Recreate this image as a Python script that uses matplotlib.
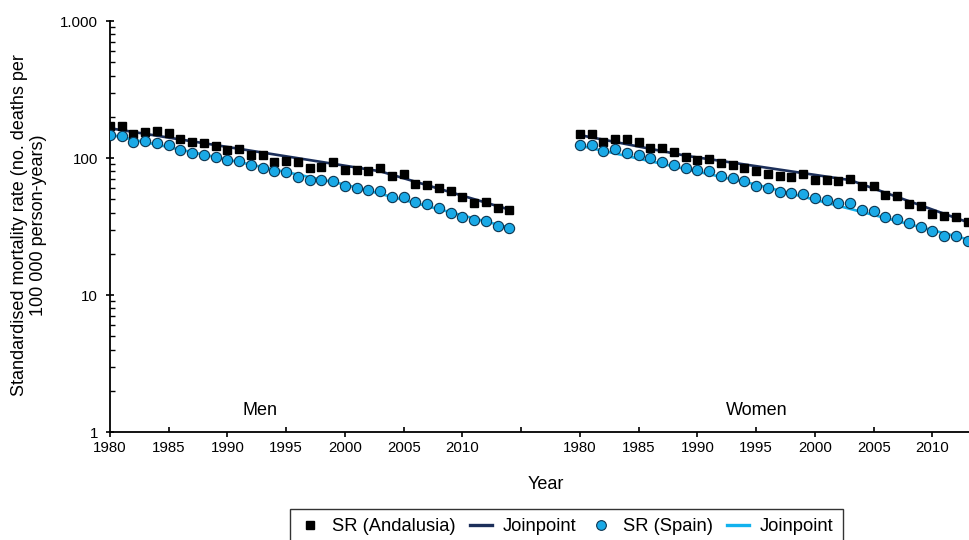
import matplotlib.pyplot as plt
from matplotlib.lines import Line2D
from matplotlib.ticker import LogLocator, NullFormatter

plt.rcParams['font.family'] = ['Liberation Sans', 'DejaVu Sans']

# data
years_men = list(range(1980, 2015))
men_andalusia = [171, 171, 149, 154, 157, 153, 137, 132, 129, 123,
                 114, 116, 105, 105, 94, 94.5, 93, 84, 86.5, 94,
                 81.7, 81.7, 80.8, 84, 74, 77, 65, 64, 60, 57.4,
                 52, 46.7, 48, 43, 42]
men_spain = [147, 145, 130, 134, 128, 124, 114, 108, 106, 101,
             96.7, 95.6, 88.5, 85, 80.4, 79, 73, 69, 69, 68.5,
             62.5, 60, 58.4, 57.6, 52, 52, 48, 46, 43, 40,
             37.3, 35.3, 34.8, 31.9, 31]

years_women = list(range(1980, 2014))
women_andalusia = [149, 150, 131, 138, 137, 130, 119, 118, 111, 102,
                   96.7, 98.5, 92.5, 89, 84, 80.8, 77, 74, 72.3, 76.4,
                   69, 69, 67.8, 70.5, 62.5, 62.5, 53.7, 53, 46, 44.6,
                   39, 37.7, 36.9, 34.3]
women_spain = [124, 124, 113, 116, 109, 105, 99.5, 93, 89, 85,
               81.7, 80.4, 74.3, 72, 68.5, 62.5, 60, 56.2, 55.3, 54.6,
               50.8, 49.2, 46.7, 46.7, 41.7, 41, 37.3, 35.8, 33.4, 31.6,
               29.3, 27.1, 27.1, 24.9]

# joinpoint trends (knots)
jp_men_and_years = [1980, 2003, 2014]
jp_men_and = [165, 80, 42]
jp_men_spa_years = [1980, 2000, 2014]
jp_men_spa = [148, 64, 31]
jp_women_and_years = [1980, 1989, 2003, 2013]
jp_women_and = [147, 104, 69, 34]
jp_women_spa_years = [1980, 1995, 2013]
jp_women_spa = [123, 64, 25.5]

tick_years = [1980, 1985, 1990, 1995, 2000, 2005, 2010, 2015]
women_offset = 40

navy = '#1c2f5a'
light = '#12b2ee'
dot = '#1aa9e6'


def xs(years, offset=0):
    return [y - 1980 + offset for y in years]


fig = plt.figure(figsize=(9.7, 5.4), dpi=100)
ax = fig.add_axes([0.1134, 0.2, 0.9206, 0.761])

for off, yrs, andv, spav, ja_y, ja, js_y, js in [
        (0, years_men, men_andalusia, men_spain,
         jp_men_and_years, jp_men_and, jp_men_spa_years, jp_men_spa),
        (women_offset, years_women, women_andalusia, women_spain,
         jp_women_and_years, jp_women_and, jp_women_spa_years, jp_women_spa)]:
    ax.plot(xs(ja_y, off), ja, color=navy, lw=1.9, zorder=2)
    ax.plot(xs(js_y, off), js, color=light, lw=1.9, zorder=2)
    ax.plot(xs(yrs, off), andv, ls='none', marker='s', ms=6.2,
            mfc='black', mec='black', zorder=3)
    ax.plot(xs(yrs, off), spav, ls='none', marker='o', ms=7.4,
            mfc=dot, mec='#0d3550', mew=0.8, zorder=4)

ax.set_yscale('log')
ax.set_ylim(1, 1000)
ax.set_xlim(0, 76)
ax.set_yticks([1, 10, 100, 1000], labels=['1', '10', '100', '1.000'])
ax.yaxis.set_minor_locator(LogLocator(base=10, subs=range(2, 10)))
ax.yaxis.set_minor_formatter(NullFormatter())

major_pos, major_lab, minor_pos, minor_lab = [], [], [], []
for off in (0, women_offset):
    for y in tick_years:
        lab = '' if y == 2015 else str(y)
        if y % 10 == 0:
            major_pos.append(y - 1980 + off)
            major_lab.append(lab)
        else:
            minor_pos.append(y - 1980 + off)
            minor_lab.append(lab)
ax.set_xticks(major_pos, labels=major_lab)
ax.set_xticks(minor_pos, labels=minor_lab, minor=True)

ax.tick_params(axis='x', which='major', direction='out', length=3.5,
               width=1.2, pad=3, labelsize=10.8)
ax.tick_params(axis='x', which='minor', direction='in', length=3.5,
               width=1.2, pad=6.5, labelsize=10.8)
ax.tick_params(axis='y', which='major', direction='inout', length=6,
               width=1.2, pad=5.5, labelsize=10.8)
ax.tick_params(axis='y', which='minor', direction='in', length=3.5,
               width=1.0)

for s in ['top', 'right']:
    ax.spines[s].set_visible(False)
for s in ['left', 'bottom']:
    ax.spines[s].set_linewidth(1.3)

ax.text(12.8, 1.43, 'Men', ha='center', va='center', fontsize=13)
ax.text(55, 1.43, 'Women', ha='center', va='center', fontsize=13)

fig.text(0.563, 0.102, 'Year', ha='center', va='center', fontsize=13)
fig.text(0.030, 0.583,
         'Standardised mortality rate (no. deaths per\n100 000 person-years)',
         rotation=90, ha='center', va='center', fontsize=13,
         multialignment='center', linespacing=1.1)

handles = [
    Line2D([], [], ls='none', marker='s', ms=6, mfc='black', mec='black'),
    Line2D([], [], color=navy, lw=2.4),
    Line2D([], [], ls='none', marker='o', ms=7, mfc=dot, mec='#0d3550', mew=0.8),
    Line2D([], [], color=light, lw=2.4),
]
labels = ['SR (Andalusia)', 'Joinpoint', 'SR (Spain)', 'Joinpoint']
leg = fig.legend(handles, labels, loc='upper center',
                 bbox_to_anchor=(0.584, 0.0574), ncol=4, frameon=True,
                 fancybox=False, edgecolor='black', fontsize=13.2,
                 handlelength=1.2, handletextpad=0.6, columnspacing=0.75,
                 borderpad=0.5, borderaxespad=0)
leg.get_frame().set_linewidth(1.0)

fig.savefig('out.png', dpi=100)
